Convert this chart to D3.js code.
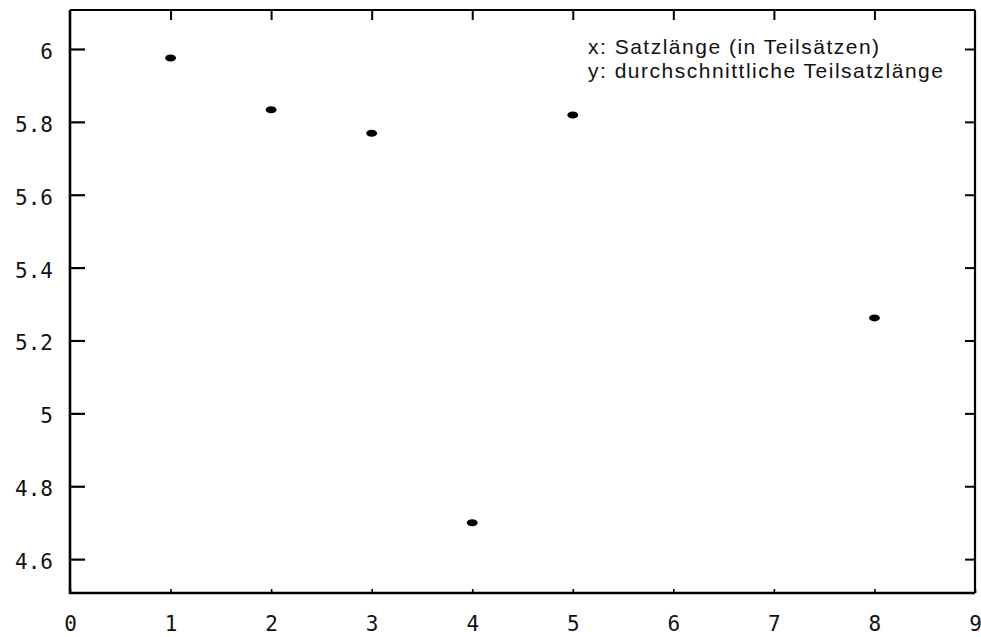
<!DOCTYPE html>
<html>
<head>
<meta charset="utf-8">
<script src="https://cdn.jsdelivr.net/npm/d3@7"></script>
<style>
  html, body { margin: 0; padding: 0; background: #fff; }
  svg { display: block; }
</style>
</head>
<body>
<script>
// Sentence length (in clauses) vs. average clause length
const sentenceLength = [1, 2, 3, 4, 5, 8];
const avgClauseLength = [5.975, 5.833, 5.769, 4.70, 5.819, 5.262];

const xTicks = [0, 1, 2, 3, 4, 5, 6, 7, 8, 9];
const yTicks = [4.6, 4.8, 5, 5.2, 5.4, 5.6, 5.8, 6];
const yTickLabels = ["4.6", "4.8", "5", "5.2", "5.4", "5.6", "5.8", "6"];
const xDomain = [0, 9];
const yDomain = [4.507, 6.107];
const legendLines = ["x: Satzlänge (in Teilsätzen)", "y: durchschnittliche Teilsatzlänge"];

const W = 981, H = 637;
const plotL = 70, plotR = 975, plotT = 10, plotB = 593;

const svg = d3.select("body").append("svg")
  .attr("width", W).attr("height", H);

const x = d3.scaleLinear().domain(xDomain).range([plotL, plotR]);
const y = d3.scaleLinear().domain(yDomain).range([plotB, plotT]);

// frame
const frame = svg.append("g").attr("stroke", "#000").attr("fill", "none");
frame.append("line").attr("x1", plotL).attr("x2", plotL).attr("y1", plotT).attr("y2", plotB + 1).attr("stroke-width", 2.6);
frame.append("line").attr("x1", plotL - 1).attr("x2", plotR).attr("y1", plotB).attr("y2", plotB).attr("stroke-width", 2.6);
frame.append("line").attr("x1", plotL).attr("x2", plotR).attr("y1", plotT).attr("y2", plotT).attr("stroke-width", 2.2);
frame.append("line").attr("x1", plotR).attr("x2", plotR).attr("y1", plotT).attr("y2", plotB).attr("stroke-width", 2.2);

// left axis: inward ticks with labels
const yAxisL = d3.axisLeft(y).tickValues(yTicks)
  .tickFormat((d, i) => yTickLabels[i])
  .tickSizeInner(-15).tickSizeOuter(0).tickPadding(17);
const gL = svg.append("g").attr("transform", `translate(${plotL},0)`).call(yAxisL);
gL.select(".domain").remove();
gL.selectAll(".tick line").attr("stroke", "#000").attr("stroke-width", 2.2);
gL.selectAll(".tick text")
  .attr("font-family", "'DejaVu Sans Mono', monospace")
  .attr("font-size", 21).attr("fill", "#111").attr("dy", "0.45em");

// right axis: inward ticks, no labels
const yAxisR = d3.axisRight(y).tickValues(yTicks).tickFormat("")
  .tickSizeInner(-10).tickSizeOuter(0);
const gR = svg.append("g").attr("transform", `translate(${plotR},0)`).call(yAxisR);
gR.select(".domain").remove();
gR.selectAll(".tick line").attr("stroke", "#000").attr("stroke-width", 2);

// bottom axis: small ticks and labels
const xAxisB = d3.axisBottom(x).tickValues(xTicks).tickFormat(d3.format("d"))
  .tickSizeInner(-4).tickSizeOuter(0).tickPadding(23);
const gB = svg.append("g").attr("transform", `translate(0,${plotB})`).call(xAxisB);
gB.select(".domain").remove();
gB.selectAll(".tick line").attr("stroke", "#000").attr("stroke-width", 1.6);
gB.selectAll(".tick text")
  .attr("font-family", "'DejaVu Sans Mono', monospace")
  .attr("font-size", 21).attr("fill", "#111");

// top axis: inward ticks
const xAxisT = d3.axisTop(x).tickValues(xTicks.slice(1, -1)).tickFormat("")
  .tickSizeInner(-10).tickSizeOuter(0);
const gT = svg.append("g").attr("transform", `translate(0,${plotT})`).call(xAxisT);
gT.select(".domain").remove();
gT.selectAll(".tick line").attr("stroke", "#000").attr("stroke-width", 2);

// data points
svg.append("g").selectAll("ellipse")
  .data(sentenceLength.map((d, i) => [d, avgClauseLength[i]]))
  .join("ellipse")
  .attr("cx", d => x(d[0]))
  .attr("cy", d => y(d[1]))
  .attr("rx", 5.5).attr("ry", 3.5)
  .attr("fill", "#000");

// legend text
svg.append("g").selectAll("text")
  .data(legendLines)
  .join("text")
  .attr("x", 588)
  .attr("y", (d, i) => 54 + i * 24)
  .attr("font-family", "'Liberation Sans', Arial, sans-serif")
  .attr("font-size", 21)
  .attr("letter-spacing", 1.5)
  .attr("fill", "#111")
  .text(d => d);
</script>
</body>
</html>
